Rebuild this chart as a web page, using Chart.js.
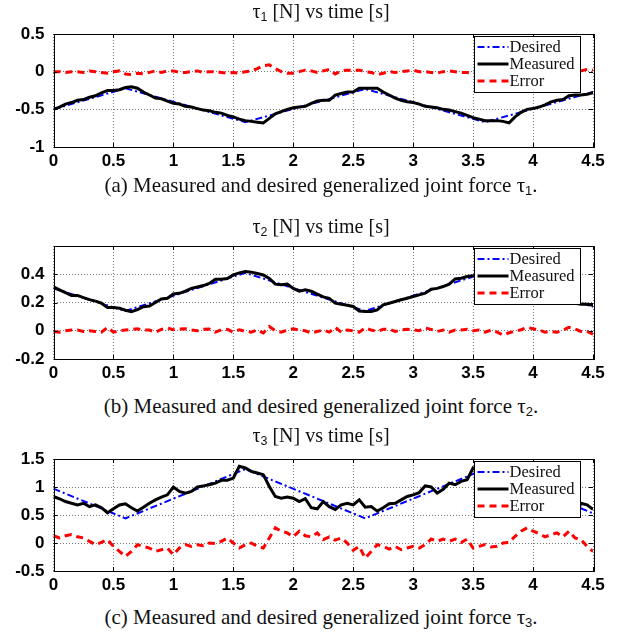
<!DOCTYPE html>
<html>
<head>
<meta charset="utf-8">
<script src="https://cdn.jsdelivr.net/npm/chart.js@4.4.1/dist/chart.umd.min.js"></script>
<style>
  html, body { margin: 0; padding: 0; background: #fff; }
  #page { position: relative; width: 630px; height: 632px; background: #fff; overflow: hidden; }
  canvas { position: absolute; left: 0; }
  .txt { position: absolute; left: 0; width: 642px; text-align: center; font-family: "Liberation Serif", "Times New Roman", serif; color: #111; white-space: nowrap; }
  .title { font-size: 20px; }
  .cap { font-size: 21px; }
  .txt sub { font-family: "Liberation Sans", Arial, sans-serif; font-size: 62%; vertical-align: -3px; }
</style>
</head>
<body>
<div id="page">
  <canvas id="c1"></canvas>
  <canvas id="c2"></canvas>
  <canvas id="c3"></canvas>
  <div class="txt title" style="top:0px">τ<sub>1</sub> [N] vs time [s]</div>
  <div class="txt cap" style="top:173px">(a) Measured and desired generalized joint force τ<sub>1</sub>.</div>
  <div class="txt title" style="top:215px">τ<sub>2</sub> [N] vs time [s]</div>
  <div class="txt cap" style="top:394px">(b) Measured and desired generalized joint force τ<sub>2</sub>.</div>
  <div class="txt title" style="top:424px">τ<sub>3</sub> [N] vs time [s]</div>
  <div class="txt cap" style="top:605px">(c) Measured and desired generalized joint force τ<sub>3</sub>.</div>
</div>
<script>
// sample times [s]
const time = [
  0, 0.05, 0.1, 0.15, 0.2, 0.25, 0.3, 0.35, 0.4, 0.45,
  0.5, 0.55, 0.6, 0.65, 0.7, 0.75, 0.8, 0.85, 0.9, 0.95,
  1, 1.05, 1.1, 1.15, 1.2, 1.25, 1.3, 1.35, 1.4, 1.45,
  1.5, 1.55, 1.6, 1.65, 1.7, 1.75, 1.8, 1.85, 1.9, 1.95,
  2, 2.05, 2.1, 2.15, 2.2, 2.25, 2.3, 2.35, 2.4, 2.45,
  2.5, 2.55, 2.6, 2.65, 2.7, 2.75, 2.8, 2.85, 2.9, 2.95,
  3, 3.05, 3.1, 3.15, 3.2, 3.25, 3.3, 3.35, 3.4, 3.45,
  3.5, 3.55, 3.6, 3.65, 3.7, 3.75, 3.8, 3.85, 3.9, 3.95,
  4, 4.05, 4.1, 4.15, 4.2, 4.25, 4.3, 4.35, 4.4, 4.45,
  4.5
];

// desired trajectory corners
const desiredTime = [0, 0.6, 1.6, 2.6, 3.6, 4.5];
const desired1 = [-0.5, -0.22, -0.67, -0.23, -0.67, -0.27];
const desired2 = [0.30, 0.14, 0.41, 0.14, 0.41, 0.17];
const desired3 = [0.97, 0.44, 1.32, 0.44, 1.32, 0.53];

const measured1 = [
  -0.50, -0.47, -0.43, -0.41, -0.38, -0.37, -0.34, -0.32, -0.28, -0.25,
  -0.25, -0.24, -0.21, -0.20, -0.22, -0.27, -0.31, -0.35, -0.36, -0.39,
  -0.42, -0.43, -0.46, -0.47, -0.49, -0.51, -0.52, -0.54, -0.55, -0.58,
  -0.60, -0.63, -0.65, -0.66, -0.67, -0.68, -0.62, -0.56, -0.53, -0.50,
  -0.48, -0.47, -0.46, -0.42, -0.39, -0.38, -0.38, -0.31, -0.29, -0.27,
  -0.27, -0.22, -0.22, -0.22, -0.22, -0.27, -0.31, -0.35, -0.38, -0.40,
  -0.41, -0.43, -0.46, -0.47, -0.48, -0.50, -0.51, -0.53, -0.55, -0.58,
  -0.61, -0.63, -0.65, -0.65, -0.65, -0.66, -0.68, -0.60, -0.54, -0.50,
  -0.49, -0.47, -0.44, -0.40, -0.38, -0.37, -0.32, -0.31, -0.31, -0.30,
  -0.28
];
const error1 = [
  0, 0, -0.01, 0, 0, -0.01, 0.01, 0, -0.01, -0.02,
  0, 0.01, -0.03, -0.04, -0.02, -0.03, -0.01, 0.01, -0.01, 0.01,
  0.01, -0.01, -0.01, 0, 0.01, -0.01, 0, 0, -0.01, -0.02,
  -0.01, -0.02, 0, 0.01, 0.04, 0.08, 0.09, 0.04, 0, -0.02,
  -0.02, 0, 0.02, 0.01, -0.01, 0.01, 0.03, -0.03, 0.01, 0.02,
  0.02, 0.02, 0, -0.01, -0.04, -0.02, 0, -0.01, 0, 0.01,
  0.02, 0, 0, -0.01, -0.02, 0, 0.01, 0, -0.01, -0.01,
  -0.02, -0.01, 0, -0.01, 0.01, 0, 0.02, 0, -0.01, 0,
  0.01, -0.01, 0, 0, -0.01, 0.01, 0, -0.01, 0.01, 0.03,
  0.02
];

const measured2 = [
  0.31, 0.29, 0.27, 0.25, 0.25, 0.235, 0.22, 0.21, 0.195, 0.165,
  0.165, 0.16, 0.145, 0.135, 0.15, 0.17, 0.175, 0.2, 0.225, 0.23,
  0.26, 0.265, 0.28, 0.3, 0.31, 0.32, 0.335, 0.365, 0.365, 0.37,
  0.395, 0.41, 0.42, 0.415, 0.405, 0.395, 0.37, 0.33, 0.325, 0.33,
  0.3, 0.28, 0.29, 0.28, 0.26, 0.24, 0.23, 0.195, 0.188, 0.18,
  0.172, 0.14, 0.136, 0.136, 0.148, 0.184, 0.195, 0.207, 0.219, 0.23,
  0.242, 0.254, 0.266, 0.294, 0.3, 0.313, 0.33, 0.367, 0.372, 0.384,
  0.39, 0.4, 0.41, 0.4, 0.385, 0.37, 0.355, 0.34, 0.325, 0.31,
  0.295, 0.28, 0.265, 0.25, 0.235, 0.22, 0.205, 0.195, 0.188, 0.188,
  0.18
];
const error2 = [
  -0.005, -0.01, 0, 0.005, 0.005, -0.005, 0, -0.005, -0.01, 0.024,
  -0.01, 0, 0.005, 0.01, 0.014, 0.005, 0.005, -0.01, 0.01, 0.02,
  0.007, 0.012, 0.014, 0.005, 0, 0.01, 0.012, -0.01, 0.007, 0.01,
  -0.01, 0.007, -0.005, -0.01, 0.005, -0.016, 0.03, 0, -0.01, 0.005,
  0.014, 0.005, 0, -0.016, -0.005, 0.005, -0.01, 0.024, -0.01, 0.005,
  0, -0.01, 0.02, 0.005, -0.005, 0.01, 0.012, -0.005, 0.005, 0.01,
  0.007, 0, 0.02, 0.01, -0.005, 0.005, -0.01, 0.005, 0.005, 0.01,
  0, 0.005, -0.01, 0.005, -0.01, -0.03, -0.014, -0.005, 0.007, 0.024,
  0.014, 0.005, -0.01, -0.005, -0.01, 0.005, 0.024, 0.012, -0.005, -0.005,
  -0.024
];

const measured3 = [
  0.83, 0.79, 0.74, 0.71, 0.68, 0.71, 0.65, 0.68, 0.63, 0.54,
  0.61, 0.68, 0.70, 0.63, 0.57, 0.64, 0.71, 0.77, 0.82, 0.86,
  1.0, 0.92, 0.89, 0.92, 1.0, 1.02, 1.04, 1.07, 1.12, 1.12,
  1.16, 1.37, 1.34, 1.28, 1.25, 1.22, 1.01, 0.83, 0.80, 0.82,
  0.80, 0.74, 0.79, 0.63, 0.61, 0.74, 0.65, 0.60, 0.68, 0.71,
  0.68, 0.77, 0.64, 0.65, 0.57, 0.63, 0.70, 0.71, 0.77, 0.83,
  0.86, 0.90, 1.02, 1.0, 0.89, 0.96, 1.07, 1.04, 1.10, 1.13,
  1.34, 1.30, 1.28, 1.25, 1.18, 1.10, 1.05, 0.95, 0.88, 0.80,
  0.75, 0.72, 0.68, 0.62, 0.60, 0.58, 0.52, 0.48, 0.71, 0.68,
  0.60
];
const error3 = [
  0.13, 0.09, 0.13, 0.15, 0.11, 0.09, 0.03, -0.03, 0.01, 0.06,
  -0.06, -0.15, -0.24, -0.15, -0.03, -0.06, -0.09, -0.15, -0.12, -0.09,
  -0.21, -0.09, -0.03, -0.06, -0.03, -0.05, 0, -0.01, 0.03, 0.09,
  0, -0.09, -0.03, 0, -0.06, -0.09, 0.09, 0.27, 0.21, 0.18,
  0.11, 0.21, 0.13, 0.11, 0.18, 0.06, 0.11, 0.05, 0.09, 0,
  -0.13, -0.06, -0.27, -0.15, -0.03, -0.06, -0.11, -0.06, -0.12, -0.09,
  -0.06, -0.09, -0.03, 0.07, 0.03, 0.07, 0.03, 0.07, 0.01, 0.07,
  -0.09, -0.06, -0.03, -0.07, -0.06, 0, 0.01, 0.12, 0.21, 0.27,
  0.21, 0.17, 0.11, 0.15, 0.18, 0.11, 0.21, 0.09, 0.06, -0.06,
  -0.15
];

const seriesNames = ["Desired", "Measured", "Error"];
const xTicks = [0, 0.5, 1, 1.5, 2, 2.5, 3, 3.5, 4, 4.5];
const yTicks1 = [-1, -0.5, 0, 0.5];
const yTicks2 = [-0.2, 0, 0.2, 0.4];
const yTicks3 = [-0.5, 0, 0.5, 1, 1.5];

const PAD_TOP = 12;
const X_AXIS_H = 28;

const pares = (xs, ys) => xs.map((t, i) => ({ x: t, y: ys[i] }));

// marco, ticks hacia dentro y leyenda tipo matlab
const marcoPlugin = {
  id: "marco",
  afterDatasetsDraw(chart) {
    const { ctx, chartArea: a, scales } = chart;
    const x = scales.x, y = scales.y;
    ctx.save();
    ctx.strokeStyle = "#000";
    ctx.lineWidth = 1;
    ctx.setLineDash([]);
    ctx.beginPath();
    x.ticks.forEach((t) => {
      const px = Math.round(x.getPixelForValue(t.value)) + 0.5;
      ctx.moveTo(px, a.bottom); ctx.lineTo(px, a.bottom - 4);
      ctx.moveTo(px, a.top); ctx.lineTo(px, a.top + 4);
    });
    y.ticks.forEach((t) => {
      const py = Math.round(y.getPixelForValue(t.value)) + 0.5;
      ctx.moveTo(a.left, py); ctx.lineTo(a.left + 4, py);
      ctx.moveTo(a.right, py); ctx.lineTo(a.right - 4, py);
    });
    ctx.stroke();
    ctx.strokeRect(Math.round(a.left) + 0.5, Math.round(a.top) + 0.5,
      Math.round(a.right - a.left), Math.round(a.bottom - a.top));

    // leyenda
    const bx = Math.round(a.right) - 119 + 0.5, by = Math.round(a.top) + 2.5;
    const bw = 106, bh = 56;
    ctx.fillStyle = "#fff";
    ctx.fillRect(bx, by, bw, bh);
    ctx.strokeRect(bx, by, bw, bh);
    ctx.font = "16.5px 'Liberation Serif'";
    ctx.textBaseline = "middle";
    ctx.textAlign = "left";
    chart.data.datasets.forEach((ds, i) => {
      const yy = by + 10.5 + i * 17;
      ctx.strokeStyle = ds.borderColor;
      ctx.lineWidth = ds.borderWidth;
      ctx.setLineDash(ds.borderDash || []);
      ctx.beginPath();
      ctx.moveTo(bx + 3, yy); ctx.lineTo(bx + 34, yy);
      ctx.stroke();
      ctx.setLineDash([]);
      ctx.fillStyle = "#111";
      ctx.fillText(ds.label, bx + 35, yy + 1);
    });
    ctx.restore();
  }
};

function crearGrafico(id, top, height, desired, measured, error, yMin, yMax, yTicks) {
  const canvas = document.getElementById(id);
  canvas.width = 630;
  canvas.height = PAD_TOP + height + X_AXIS_H;
  canvas.style.top = (top - PAD_TOP) + "px";

  const tickFont = { family: "'Liberation Sans'", size: 17, weight: "bold" };
  return new Chart(canvas, {
    type: "line",
    data: {
      datasets: [
        { label: seriesNames[0], data: pares(desiredTime, desired), borderColor: "#0000ff", borderWidth: 2, borderDash: [7, 3, 2, 3], order: 3 },
        { label: seriesNames[1], data: pares(time, measured), borderColor: "#000000", borderWidth: 3, order: 2 },
        { label: seriesNames[2], data: pares(time, error), borderColor: "#ff0000", borderWidth: 3, borderDash: [7, 5], order: 1 }
      ]
    },
    options: {
      responsive: false,
      animation: false,
      devicePixelRatio: 1,
      layout: { padding: { top: PAD_TOP, right: 37, left: 0, bottom: 0 } },
      elements: { point: { radius: 0 }, line: { tension: 0, fill: false } },
      plugins: { legend: { display: false }, tooltip: { enabled: false } },
      scales: {
        x: {
          type: "linear", min: 0, max: 4.5,
          afterBuildTicks: (s) => { s.ticks = xTicks.map((v) => ({ value: v })); },
          afterFit: (s) => { s.height = X_AXIS_H; s.paddingLeft = 0; s.paddingRight = 0; },
          grid: { color: "#777", drawTicks: false, lineWidth: 1 },
          border: { display: false, dash: [1, 2] },
          ticks: { font: tickFont, color: "#000", padding: 4, maxRotation: 0, callback: (v) => String(v) }
        },
        y: {
          type: "linear", min: yMin, max: yMax,
          afterBuildTicks: (s) => { s.ticks = yTicks.map((v) => ({ value: v })); },
          afterFit: (s) => { s.width = 53.5; s.paddingTop = 0; s.paddingBottom = 0; },
          grid: { color: "#777", drawTicks: false, lineWidth: 1 },
          border: { display: false, dash: [1, 2] },
          ticks: { font: tickFont, color: "#000", padding: 9, callback: (v) => String(v) }
        }
      }
    },
    plugins: [marcoPlugin]
  });
}

crearGrafico("c1", 34, 113, desired1, measured1, error1, -1, 0.5, yTicks1);
crearGrafico("c2", 246, 113, desired2, measured2, error2, -0.2, 0.6, yTicks2);
crearGrafico("c3", 459, 112, desired3, measured3, error3, -0.5, 1.5, yTicks3);
</script>
</body>
</html>
